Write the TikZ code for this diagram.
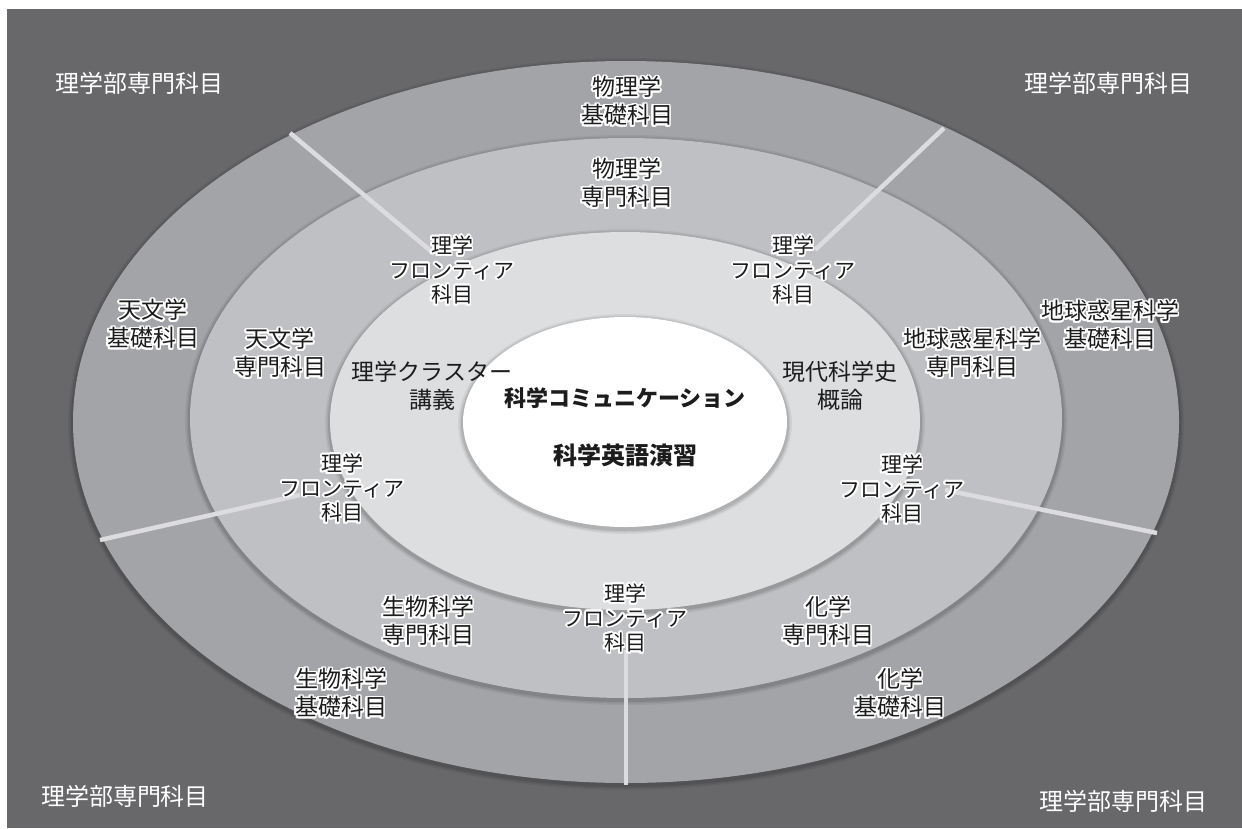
\documentclass[tikz,border=0pt]{standalone}
\usepackage{fontspec}
\setmainfont{Noto Sans CJK JP}
\usepackage{contour}
\contourlength{1.8pt}
\contournumber{20}
\definecolor{bgdark}{RGB}{104,104,107}
\definecolor{ringouter}{RGB}{163,164,168}
\definecolor{ringmid}{RGB}{191,192,195}
\definecolor{ringinner}{RGB}{221,222,224}
\definecolor{divline}{RGB}{220,220,222}
\definecolor{txtdark}{RGB}{28,28,28}
\newcommand{\gl}[1]{\contour{white}{#1}}
\begin{document}
\begin{tikzpicture}[x=1pt,y=-1pt,
  lbl/.style={font=\fontsize{23}{28}\selectfont, text=txtdark, align=center, inner sep=0pt},
  front/.style={font=\fontsize{21}{24.5}\selectfont, text=txtdark, align=center, inner sep=0pt},
  corner/.style={font=\fontsize{24}{28}\selectfont, text=white, inner sep=0pt},
  core/.style={font=\bfseries\fontsize{22}{26}\selectfont, text=txtdark, inner sep=0pt},
  divider/.style={draw=divline, line width=4.5pt}]
\useasboundingbox (0,0) rectangle (1242,828);
\fill[white] (0,0) rectangle (1242,828);
\fill[bgdark] (7,9) rectangle (1242,828);
% rings with soft shadows
\foreach \d/\o in {5/0.05,3.5/0.07,2/0.09} {
  \fill[black,opacity=\o] (626,424) ellipse [x radius=553+\d, y radius=361+\d];
}
\fill[ringouter] (626,422) ellipse [x radius=553, y radius=361];
\foreach \d/\o in {5/0.05,3.5/0.07,2/0.09} {
  \fill[black,opacity=\o] (626,420) ellipse [x radius=436+\d, y radius=280+\d];
}
\fill[ringmid] (626,418) ellipse [x radius=436, y radius=280];
\foreach \d/\o in {5/0.05,3.5/0.07,2/0.09} {
  \fill[black,opacity=\o] (625,423) ellipse [x radius=295+\d, y radius=189+\d];
}
\fill[ringinner] (625,421) ellipse [x radius=295, y radius=189];
\foreach \d/\o in {5/0.05,3.5/0.07,2/0.09} {
  \fill[black,opacity=\o] (625,424) ellipse [x radius=162+\d, y radius=105+\d];
}
\fill[white] (625,422) ellipse [x radius=162, y radius=105];
% dividers
\coordinate (ula) at (290,133); \coordinate (ulb) at (432,252);
\coordinate (ura) at (944,128); \coordinate (urb) at (815,250);
\coordinate (la) at (100,540);  \coordinate (lb) at (300,495);
\coordinate (ra) at (1157,533); \coordinate (rb) at (945,490);
\coordinate (ba) at (626,785);  \coordinate (bb) at (626,650);
\draw[divider] (ula) -- (ulb);
\draw[divider] (ura) -- (urb);
\draw[divider] (la) -- (lb);
\draw[divider] (ra) -- (rb);
\draw[divider] (ba) -- (bb);
% corner labels
\node[corner] (c1) at (139,83) {理学部専門科目};
\node[corner] (c2) at (1108,83) {理学部専門科目};
\node[corner] (c3) at (125,796) {理学部専門科目};
\node[corner] (c4) at (1123,801) {理学部専門科目};
% ring labels
\node[lbl] (physb) at (627,102) {\gl{物理学}\\\gl{基礎科目}};
\node[lbl] (physs) at (627,184) {\gl{物理学}\\\gl{専門科目}};
\node[lbl] (astrob) at (153,325) {\gl{天文学}\\\gl{基礎科目}};
\node[lbl] (astros) at (280,354) {\gl{天文学}\\\gl{専門科目}};
\node[lbl] (earthb) at (1110,326) {\gl{地球惑星科学}\\\gl{基礎科目}};
\node[lbl] (earths) at (972,354) {\gl{地球惑星科学}\\\gl{専門科目}};
\node[lbl] (bios) at (428,622) {\gl{生物科学}\\\gl{専門科目}};
\node[lbl] (biob) at (341,694) {\gl{生物科学}\\\gl{基礎科目}};
\node[lbl] (chems) at (828,622) {\gl{化学}\\\gl{専門科目}};
\node[lbl] (chemb) at (900,694) {\gl{化学}\\\gl{基礎科目}};
\node[lbl] (cluster) at (432,386) {理学クラスター\\講義};
\node[lbl] (history) at (840,386) {現代科学史\\概論};
% frontier labels
\node[front] (f1) at (452,271) {\gl{理学}\\\gl{フロンティア}\\\gl{科目}};
\node[front] (f2) at (793,271) {\gl{理学}\\\gl{フロンティア}\\\gl{科目}};
\node[front] (f3) at (342,489) {\gl{理学}\\\gl{フロンティア}\\\gl{科目}};
\node[front] (f4) at (902,490) {\gl{理学}\\\gl{フロンティア}\\\gl{科目}};
\node[front] (f5) at (625,619) {\gl{理学}\\\gl{フロンティア}\\\gl{科目}};
% core
\node[core] (core1) at (625,398) {科学コミュニケーション};
\node[core, font=\bfseries\fontsize{24}{28}\selectfont] (core2) at (625,455) {科学英語演習};
\end{tikzpicture}
\end{document}
